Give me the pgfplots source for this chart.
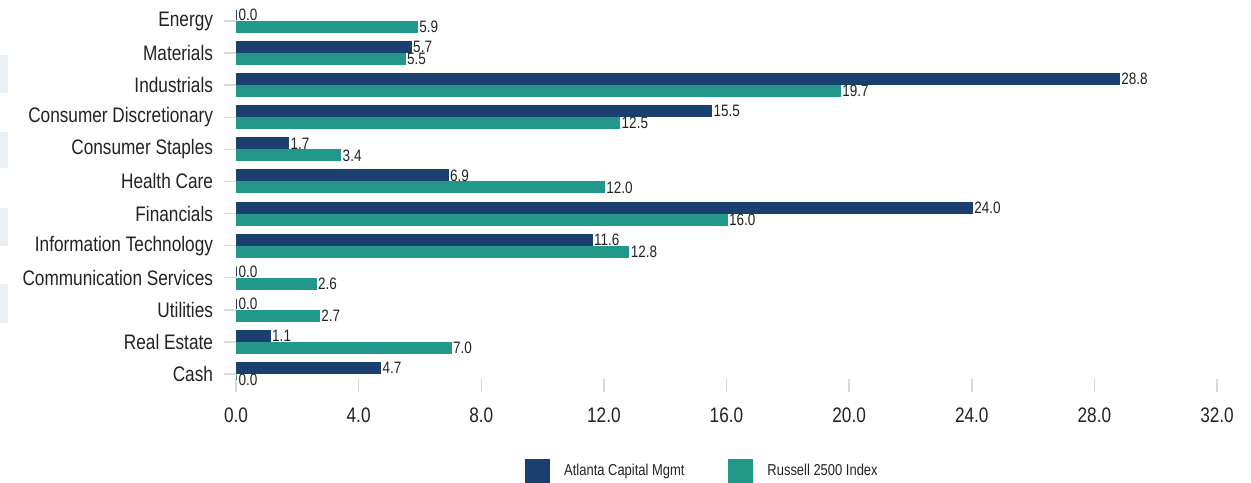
\documentclass[border=0pt]{standalone}
\usepackage{fontspec}
\setmainfont{Liberation Sans}[FakeStretch=0.82]
\usepackage{pgfplots}
\pgfplotsset{compat=1.18}

\definecolor{navy}{RGB}{27,63,111}
\definecolor{teal}{RGB}{33,152,138}
\definecolor{tickgray}{RGB}{218,218,218}
\definecolor{txt}{RGB}{34,34,34}
\definecolor{panel}{RGB}{232,240,243}

\begin{document}
\begin{tikzpicture}
\path[use as bounding box] (0,0) rectangle (1251bp,483bp);
% faint panels at the left edge
\fill[panel] (0,428bp) rectangle (8bp,390bp);
\fill[panel] (0,351bp) rectangle (8bp,315bp);
\fill[panel] (0,275bp) rectangle (8bp,237bp);
\fill[panel] (0,199bp) rectangle (8bp,160bp);
\begin{axis}[
  at={(236bp,104bp)}, anchor=south west,
  scale only axis,
  width=981bp, height=374bp,
  xbar, bar width=10bp,
  xmin=0, xmax=32,
  ymin=-0.5, ymax=11.156,
  y dir=reverse,
  axis x line*=bottom, axis y line*=left,
  axis line style={draw=none},
  tick align=outside,
  major tick length=12.5bp,
  tick style={tickgray, line width=1.5bp},
  xtick={0,4,...,32},
  ytick={0,...,11},
  yticklabels={Energy,Materials,Industrials,Consumer Discretionary,Consumer Staples,Health Care,Financials,Information Technology,Communication Services,Utilities,Real Estate,Cash},
  /pgf/number format/assume math mode=true,
  xticklabel={\pgfmathprintnumber[fixed,fixed zerofill,precision=1]{\tick}},
  ticklabel style={font=\fontsize{21bp}{24bp}\selectfont, text=txt},
  xticklabel style={yshift=-13bp},
  yticklabel style={xshift=-7bp},
  nodes near coords={\pgfmathprintnumber[fixed,fixed zerofill,precision=1]{\pgfplotspointmeta}},
  nodes near coords style={font=\fontsize{16.5bp}{18bp}\selectfont, text=txt, inner xsep=1.5bp, anchor=west},
  point meta=explicit,
  legend style={draw=none, fill=none, at={(0.2916,-0.246)}, anchor=west,
    font=\fontsize{15.8bp}{18bp}\selectfont, text=txt,
    legend columns=2,
    /tikz/every odd column/.append style={column sep=12bp},
    /tikz/every even column/.append style={column sep=42bp}},
  legend cell align=left,
]
\addplot+[fill=navy, draw=navy, line width=2bp, bar shift=6bp,
  legend image code/.code={\fill[navy] (0bp,-11.5bp) rectangle (23bp,11.5bp);}]
  coordinates {(0.0,0)[0.0] (5.7,1)[5.7] (28.8,2)[28.8] (15.5,3)[15.5] (1.7,4)[1.7] (6.9,5)[6.9]
               (24.0,6)[24.0] (11.6,7)[11.6] (0.0,8)[0.0] (0.0,9)[0.0] (1.1,10)[1.1] (4.7,11)[4.7]};
\addplot+[fill=teal, draw=teal, line width=2bp, bar shift=-6bp,
  legend image code/.code={\fill[teal] (0bp,-11.5bp) rectangle (23bp,11.5bp);}]
  coordinates {(5.9,0)[5.9] (5.5,1)[5.5] (19.7,2)[19.7] (12.5,3)[12.5] (3.4,4)[3.4] (12.0,5)[12.0]
               (16.0,6)[16.0] (12.8,7)[12.8] (2.6,8)[2.6] (2.7,9)[2.7] (7.0,10)[7.0] (0.0,11)[0.0]};
\legend{Atlanta Capital Mgmt, Russell 2500 Index}
\end{axis}
\end{tikzpicture}
\end{document}
